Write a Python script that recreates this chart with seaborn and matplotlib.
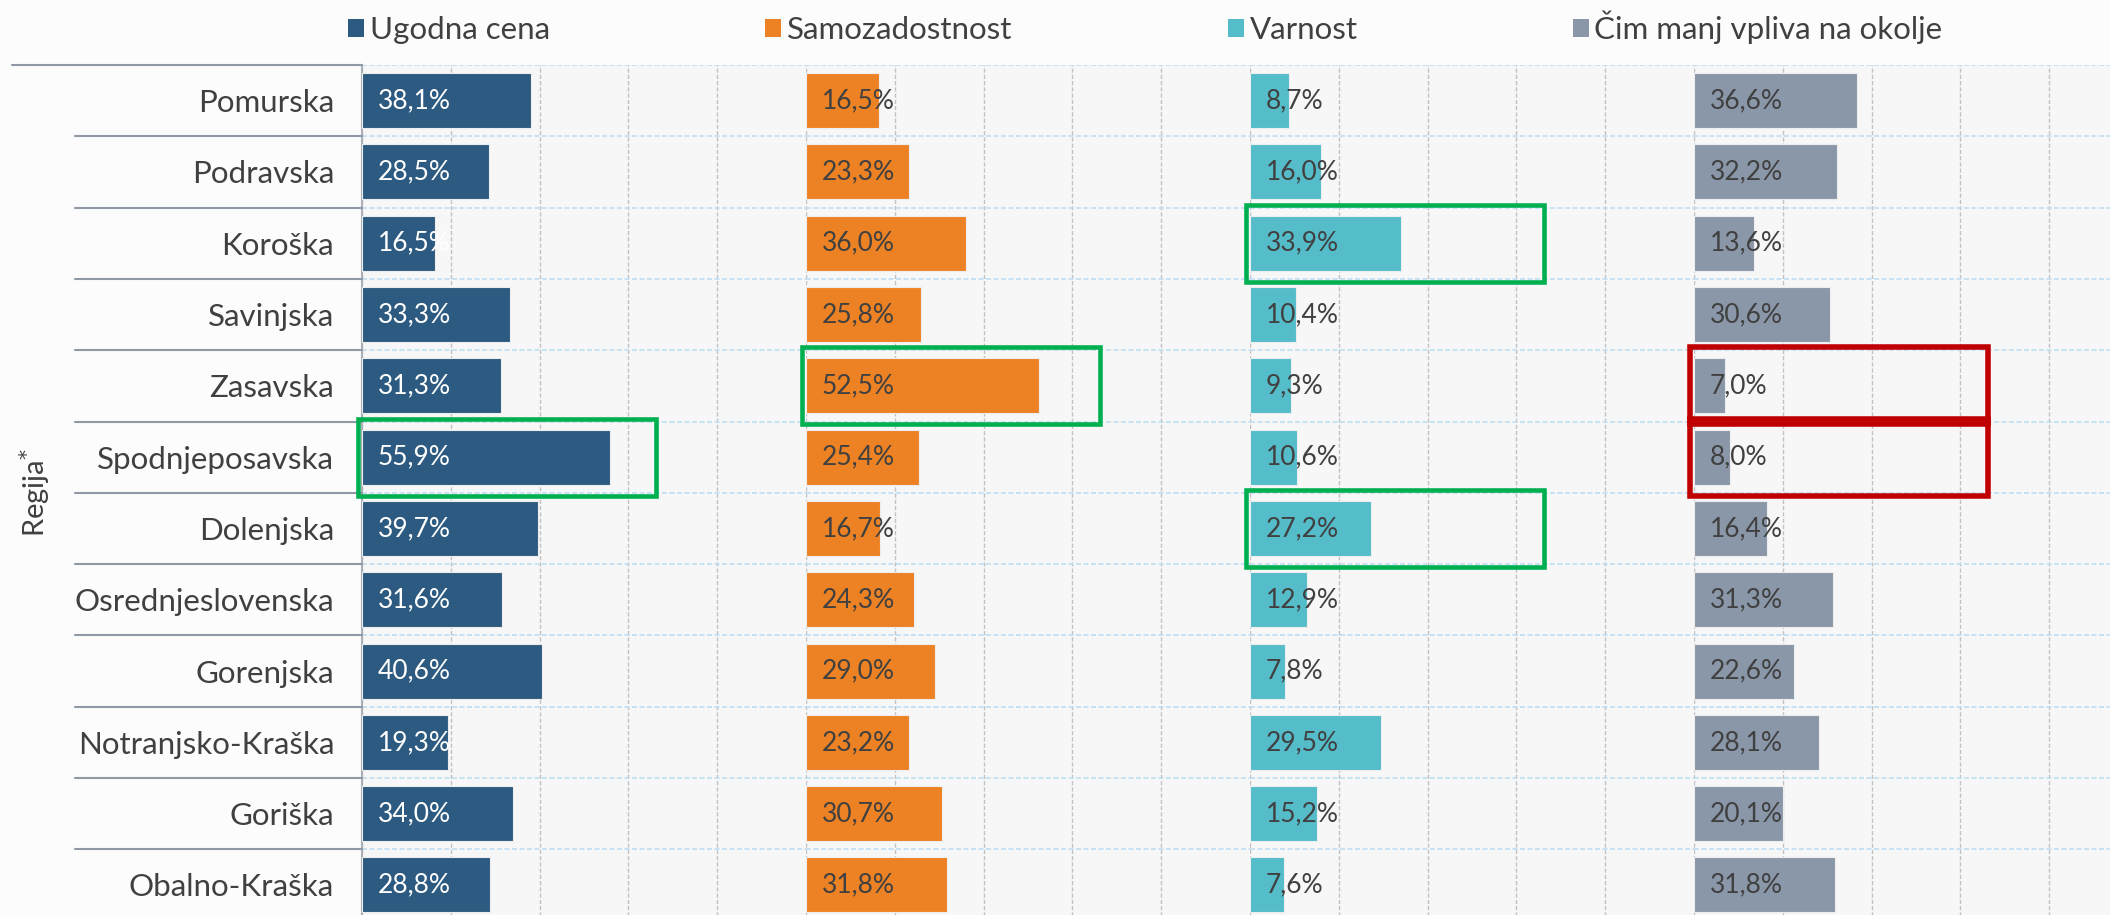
import numpy as np
import pandas as pd
import matplotlib
matplotlib.use("Agg")
import matplotlib.pyplot as plt
from matplotlib.patches import Patch, Rectangle
import seaborn as sns

# ---------------- data ----------------
regions = ["Pomurska", "Podravska", "Koroška", "Savinjska", "Zasavska",
           "Spodnjeposavska", "Dolenjska", "Osrednjeslovenska", "Gorenjska",
           "Notranjsko-Kraška", "Goriška", "Obalno-Kraška"]
series_names = ["Ugodna cena", "Samozadostnost", "Varnost", "Čim manj vpliva na okolje"]
ugodna_cena = [38.1, 28.5, 16.5, 33.3, 31.3, 55.9, 39.7, 31.6, 40.6, 19.3, 34.0, 28.8]
samozadostnost = [16.5, 23.3, 36.0, 25.8, 52.5, 25.4, 16.7, 24.3, 29.0, 23.2, 30.7, 31.8]
varnost = [8.7, 16.0, 33.9, 10.4, 9.3, 10.6, 27.2, 12.9, 7.8, 29.5, 15.2, 7.6]
okolje = [36.6, 32.2, 13.6, 30.6, 7.0, 8.0, 16.4, 31.3, 22.6, 28.1, 20.1, 31.8]
y_title = "Regija$^{*}$"
highlights_green = [("Spodnjeposavska", "Ugodna cena"), ("Zasavska", "Samozadostnost"),
                    ("Koroška", "Varnost"), ("Dolenjska", "Varnost")]
highlights_red = [("Zasavska", "Čim manj vpliva na okolje"),
                  ("Spodnjeposavska", "Čim manj vpliva na okolje")]

all_values = [ugodna_cena, samozadostnost, varnost, okolje]
df = pd.DataFrame([
    {"region": r, "series": s, "value": v}
    for s, vals in zip(series_names, all_values)
    for r, v in zip(regions, vals)
])

# ---------------- style ----------------
colors = ["#2C5A80", "#EC8224", "#55BCCA", "#8A97A8"]
label_colors = ["white", "#404040", "#404040", "#404040"]
text_color = "#404040"

sns.set_theme(style="white")
plt.rcParams["font.family"] = ["Lato", "DejaVu Sans"]

W, H = 2110, 915
fig = plt.figure(figsize=(W / 100, H / 100), dpi=100, facecolor="#FCFCFC")

top_px = 65
row_px = 71.3
left_px = 362
panel_px = 444
n = len(regions)
bottom_px = top_px + n * row_px

axes = []
for i, s in enumerate(series_names):
    ax = fig.add_axes([(left_px + i * panel_px) / W, 1 - bottom_px / H,
                       panel_px / W, n * row_px / H])
    axes.append(ax)
    sub = df[df["series"] == s]
    sns.barplot(data=sub, x="value", y="region", order=regions, color=colors[i],
                orient="h", width=0.77, saturation=1, ax=ax,
                edgecolor="#EDEDED", linewidth=0.8, zorder=3)
    ax.set_facecolor("#F7F7F7")
    ax.set_xlim(0, 100)
    ax.set_ylim(n - 0.5, -0.5)
    ax.set_xticks([0, 20, 40, 60, 80])
    ax.set_xticklabels([])
    ax.set_xlabel("")
    ax.set_yticks(np.arange(-0.5, n, 1), minor=True)
    ax.tick_params(axis="both", which="both", length=0)
    ax.xaxis.grid(True, linestyle=(0, (3, 1.5)), color="#C2C2C2", lw=1)
    ax.yaxis.grid(True, which="minor", linestyle=(0, (3, 1.5)), color="#BFDDF3", lw=1.2)
    ax.yaxis.grid(False, which="major")
    ax.set_axisbelow(True)
    for sp in ax.spines.values():
        sp.set_visible(False)
    if i == 0:
        ax.spines["left"].set_visible(True)
        ax.spines["left"].set_color("#A9B0B8")
        ax.spines["left"].set_linewidth(1.5)
        ax.tick_params(axis="y", which="major", labelsize=22.5, labelcolor=text_color, pad=20)
        ax.set_ylabel(y_title, fontsize=21, color=text_color)
        ax.yaxis.set_label_coords(-0.698, 0.5)
    else:
        ax.set_yticklabels([])
        ax.set_ylabel("")

    vals = all_values[i]
    for j, v in enumerate(vals):
        ax.annotate(f"{v:.1f}%".replace(".", ","), xy=(0, j), xytext=(11.5, 0),
                    textcoords="offset points", ha="left", va="center",
                    fontsize=19, color=label_colors[i], zorder=6)

# category separator lines in the label area
ax0 = axes[0]
tr = ax0.get_yaxis_transform()
ax0.plot([-0.788, 0], [-0.5, -0.5], transform=tr, color="#8F99A5", lw=1.5,
         clip_on=False, zorder=5)
for b in np.arange(0.5, n - 0.5, 1):
    ax0.plot([-0.646, 0], [b, b], transform=tr, color="#8F99A5", lw=1.5,
             clip_on=False, zorder=5)

# highlight boxes
box_x0, box_w, box_pad = -0.9, 67.2, 0.04
for group, col, lw in ((highlights_green, "#00B050", 3.3), (highlights_red, "#C00000", 4.0)):
    for reg, ser in group:
        ax = axes[series_names.index(ser)]
        row = regions.index(reg)
        ax.add_patch(Rectangle((box_x0, row - 0.5 - box_pad), box_w, 1 + 2 * box_pad,
                               fill=False, edgecolor=col, lw=lw, clip_on=False, zorder=7))

# legend
fs = 22.5
fs_px = fs * 100 / 72
handles = [Patch(facecolor=c, edgecolor="none", label=nm) for c, nm in zip(colors, series_names)]
leg = fig.legend(handles=handles, loc="center left", bbox_to_anchor=(348 / W, 1 - 27 / H),
                 ncol=4, frameon=False, fontsize=fs,
                 handlelength=16 / fs_px, handleheight=16 / fs_px,
                 handletextpad=6 / fs_px, columnspacing=215 / fs_px,
                 borderpad=0, borderaxespad=0)
for t in leg.get_texts():
    t.set_color(text_color)

fig.savefig("out.png", dpi=100, facecolor=fig.get_facecolor())
